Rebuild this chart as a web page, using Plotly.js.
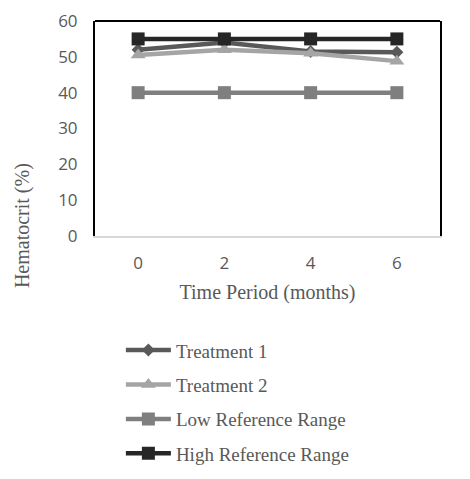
<!DOCTYPE html>
<html>
<head>
<meta charset="utf-8">
<script src="https://cdn.plot.ly/plotly-3.0.1.min.js"></script>
<style>
  html, body { margin: 0; padding: 0; background: #fff; }
  #chart { width: 470px; height: 479px; }
</style>
</head>
<body>
<div id="chart"></div>
<script>
// Hematocrit over time, two treatments against the reference range
const months = ['0', '2', '4', '6'];
const treatment1 = [52, 54, 51.5, 51.3];
const treatment2 = [50.5, 52, 51, 48.8];
const lowReference = [40, 40, 40, 40];
const highReference = [55, 55, 55, 55];
const yTicks = [0, 10, 20, 30, 40, 50, 60];

const serif = 'Liberation Serif, Times New Roman, serif';
const textGrey = '#595959';

function series(name, y, color, symbol, size, group) {
  return {
    x: months, y: y, name: name, type: 'scatter', mode: 'lines+markers',
    line: {color: color, width: 4.5},
    marker: {color: color, symbol: symbol, size: size},
    legendgroup: group
  };
}

const data = [
  series('Treatment 1', treatment1, '#595959', 'diamond', 10, 'a'),
  series('Treatment 2', treatment2, '#a5a5a5', 'triangle-up', 13, 'b'),
  series('Low Reference Range', lowReference, '#7f7f7f', 'square', 13, 'c'),
  series('High Reference Range', highReference, '#262626', 'square', 13, 'd')
];

const layout = {
  width: 470, height: 479,
  // fixed plot box; the legend sits below it without resizing the axes
  margin: {l: 95, r: 30, t: 21, b: 243, autoexpand: false},
  paper_bgcolor: '#ffffff', plot_bgcolor: '#ffffff',
  showlegend: true,
  legend: {
    orientation: 'v', x: 0.075, xanchor: 'left', y: -0.443, yanchor: 'top',
    font: {family: serif, size: 19, color: textGrey},
    traceorder: 'grouped', tracegroupgap: 6.7, itemwidth: 45,
    bgcolor: 'rgba(0,0,0,0)'
  },
  xaxis: {
    type: 'category', range: [-0.5, 3.5],
    showgrid: false, zeroline: false,
    showline: true, linecolor: '#d9d9d9', linewidth: 2,
    ticks: '', ticklabelstandoff: 11,
    tickfont: {family: 'Open Sans, sans-serif', size: 17, color: textGrey},
    title: {text: 'Time Period (months)', font: {family: serif, size: 20, color: textGrey}, standoff: 12}
  },
  yaxis: {
    range: [0, 60], tickvals: yTicks, ticktext: yTicks.map(String),
    showgrid: false, zeroline: false,
    showline: true, mirror: true, linecolor: '#000000', linewidth: 2,
    ticks: '', ticklabelstandoff: 12,
    tickfont: {family: 'Open Sans, sans-serif', size: 17, color: textGrey}
  },
  shapes: [{
    type: 'line', xref: 'paper', yref: 'paper', x0: 0, x1: 1, y0: 1, y1: 1,
    line: {color: '#000000', width: 2}
  }],
  annotations: [{
    text: 'Hematocrit (%)', xref: 'paper', yref: 'paper',
    x: -0.212, y: 0.05, xanchor: 'center', yanchor: 'middle',
    textangle: -90, showarrow: false,
    font: {family: serif, size: 20, color: textGrey}
  }]
};

Plotly.newPlot('chart', data, layout, {displayModeBar: false, staticPlot: true});
</script>
</body>
</html>
